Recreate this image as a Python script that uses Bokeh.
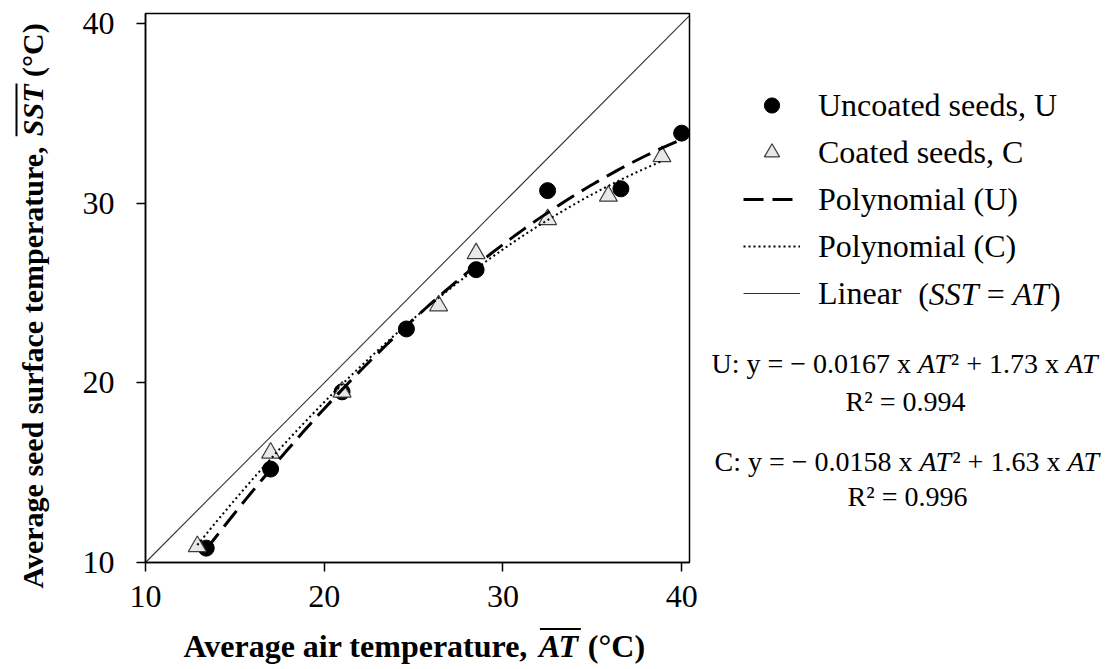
import numpy as np
from math import pi
from bokeh.plotting import figure
from bokeh.layouts import row, column
from bokeh.models import Label, Arrow, Legend, LegendItem, FixedTicker, Range1d
from bokeh.embed import file_html
from bokeh.resources import INLINE

# ---------------- data ----------------
u_at = [13.4, 17.0, 21.0, 24.6, 28.5, 32.5, 36.6, 40.0]
u_sst = [10.8, 15.2, 19.5, 23.0, 26.3, 30.7, 30.8, 33.9]
c_at = [12.9, 17.0, 21.0, 26.4, 28.5, 32.5, 35.9, 38.9]
c_sst = [10.9, 16.1, 19.5, 24.3, 27.2, 29.1, 30.4, 32.6]
ticks = [10, 20, 30, 40]
one_to_one = [10, 40.44]
legend_labels = ["Uncoated seeds, U", "Coated seeds, C", "Polynomial (U)", "Polynomial (C)", "Linear"]
eq_u = [("U: y = − 0.0167 x ", "r"), ("AT", "i"), ("² + 1.73 x ", "r"), ("AT", "i")]
eq_c = [("C: y = − 0.0158 x ", "r"), ("AT", "i"), ("² + 1.63 x ", "r"), ("AT", "i")]
r2_u = "R² = 0.994"
r2_c = "R² = 0.996"
linear_tail = [("(", "r"), ("SST", "i"), (" = ", "r"), ("AT", "i"), (")", "r")]
x_title = [("Average air temperature, ", "b"), ("AT", "bi"), (" (°C)", "b")]
y_title = [("Average seed surface temperature, ", "b"), ("SST", "bi"), (" (°C)", "b")]

# ---------------- layout (global px) ----------------
W, H = 1105, 669
LW = 50                      # left strip for the y title
MX1 = 700                    # main plot right edge
BH = 44                      # bottom strip for the x title
FL, FR, FT, FB = 145, 689, 13, 562   # frame edges
XMIN, XMAX = 10, 40.44
YMIN, YMAX = 10, 40.56
FONT = "Liberation Serif"

# Times-metric advance widths (per 1000 em)
REG = {' ': 250, '(': 333, ')': 333, '+': 564, ',': 250, '.': 250, ':': 278, '=': 564,
       '−': 564, '²': 300, '°': 400, 'A': 722, 'C': 667, 'L': 611, 'R': 667, 'S': 556,
       'T': 611, 'U': 722, 'x': 500, 'y': 500}
ITA = {' ': 250, 'A': 611, 'T': 556, 'S': 500}
BOLD = {' ': 250, '(': 333, ')': 333, ',': 250, '°': 400, 'A': 722, 'C': 722, 'a': 500,
        'c': 444, 'd': 556, 'e': 444, 'f': 333, 'g': 500, 'i': 278, 'm': 833, 'p': 556,
        'r': 444, 's': 389, 't': 333, 'u': 556, 'v': 500}
BOLDITA = {' ': 250, 'A': 667, 'T': 611, 'S': 556}
TABLES = {"r": REG, "i": ITA, "b": BOLD, "bi": BOLDITA}
STYLES = {"r": "normal", "i": "italic", "b": "bold", "bi": "bold italic"}


def tw(s, st, size):
    return sum(TABLES[st].get(ch, 500) for ch in s) * size / 1000.0


def blank(w, h, xr=None):
    f = figure(width=w, height=h, output_backend="svg", toolbar_location=None,
               x_range=xr if xr is not None else Range1d(0, w), y_range=Range1d(h, 0),
               x_axis_type=None, y_axis_type=None, min_border=0)
    f.min_border_left = f.min_border_right = f.min_border_top = f.min_border_bottom = 0
    f.outline_line_color = None
    f.xgrid.visible = False
    f.ygrid.visible = False
    f.background_fill_color = "white"
    f.border_fill_color = "white"
    return f


def put_row(f, ox, oy, pieces, x0, y0, size, rotate=False):
    """place text pieces (global px, middle baseline) in figure f with origin (ox, oy)"""
    pos = x0 if not rotate else y0
    sgn = -1 if rotate else 1
    spans = []
    for text, st in pieces:
        lead = len(text) - len(text.lstrip(' '))
        pos += tw(' ' * lead, st, size) * sgn
        core = text.strip(' ')
        wcore = tw(core, st, size)
        if rotate:
            lab = Label(x=x0 - ox, y=pos - oy, text=core, angle=pi / 2,
                        text_align="left", text_baseline="middle")
        else:
            lab = Label(x=pos - ox, y=y0 - oy, text=core, text_align="left",
                        text_baseline="middle")
        spans.append((pos, pos + sgn * wcore))
        pos += sgn * wcore
        lab.text_font = FONT
        lab.text_font_size = f"{size}px"
        lab.text_font_style = STYLES[st]
        lab.text_color = "black"
        f.add_layout(lab)
        trail = len(text) - len(text.rstrip(' '))
        pos += tw(' ' * trail, st, size) * sgn
    return spans


# ---------------- main plot ----------------
MH = H - BH
p = figure(width=MX1 - LW, height=MH, output_backend="svg", toolbar_location=None,
           x_range=Range1d(XMIN, XMAX), y_range=Range1d(YMIN, YMAX))
p.min_border_left = FL - LW
p.min_border_right = MX1 - FR
p.min_border_top = FT
p.min_border_bottom = MH - FB
p.background_fill_color = "white"
p.border_fill_color = "white"
p.outline_line_color = "black"
p.outline_line_width = 1.5
p.xgrid.visible = False
p.ygrid.visible = False

for ax in (p.xaxis[0], p.yaxis[0]):
    ax.ticker = FixedTicker(ticks=ticks)
    ax.major_tick_out = 9
    ax.major_tick_in = 0
    ax.minor_tick_line_color = None
    ax.axis_line_width = 1.5
    ax.major_tick_line_width = 1.5
    ax.major_label_text_font = FONT
    ax.major_label_text_font_size = "32px"
    ax.major_label_text_color = "black"
p.xaxis.major_label_standoff = 14
p.yaxis.major_label_standoff = 22

MARK_U = dict(marker="circle", fill_color="black", line_color="black")
MARK_C = dict(marker="triangle", fill_color="#e8e8e8", line_color="#3c3c3c", line_width=1.2)
LINE_U = dict(line_color="black", line_width=3, line_dash="20 9")
LINE_C = dict(line_color="black", line_width=2, line_dash="2 3")
LINE_L = dict(line_color="#333333", line_width=1.1)

p.scatter(u_at, u_sst, size=16, **MARK_U)
p.scatter(c_at, c_sst, size=18, **MARK_C)

# polynomial trend lines (least squares fit of the data)
cu = np.polyfit(u_at, u_sst, 2)
cc = np.polyfit(c_at, c_sst, 2)
ux = np.linspace(min(u_at), max(u_at), 120)
cx = np.linspace(min(c_at), max(c_at), 120)
uy = np.polyval(cu, ux)
cy = np.polyval(cc, cx)
p.line(ux, uy, **LINE_U)
p.line(cx, cy, **LINE_C)
p.line(one_to_one, one_to_one, **LINE_L)

# ---------------- left strip: y title ----------------
lf = blank(LW, H)
YT_MID = 32
spans = put_row(lf, 0, 0, y_title, YT_MID, 588, 30, rotate=True)
s0, s1 = spans[1]
lf.add_layout(Arrow(end=None, start=None, x_start=YT_MID - 16, y_start=s0,
                    x_end=YT_MID - 16, y_end=s1 - 1, line_width=2, line_color="black"))

# ---------------- bottom strip: x title ----------------
# this strip sits in a column with the main plot, so its frame is aligned with
# the main frame (FL..FR); its x range is therefore given in page pixels
bf = blank(MX1 - LW, BH, xr=Range1d(FL, FR))
XT_MID = 645.5
spans = put_row(bf, 0, MH, x_title, 183, XT_MID, 32)
a0, a1 = spans[1]
bf.add_layout(Arrow(end=None, start=None, x_start=a0 + 1, y_start=XT_MID - 17 - MH,
                    x_end=a1 + 1, y_end=XT_MID - 17 - MH, line_width=2, line_color="black"))

# ---------------- right strip: legend + equations ----------------
rf = blank(W - MX1, H)
rf.extra_x_ranges = {"off": Range1d(1000, 2000)}
rf.extra_y_ranges = {"off": Range1d(1000, 2000)}
off = dict(x_range_name="off", y_range_name="off")
d_u = rf.scatter(u_at, u_sst, size=16, **MARK_U, **off)
d_c = rf.scatter(c_at, c_sst, size=18, **MARK_C, **off)
d_pu = rf.line(ux, uy, **LINE_U, **off)
d_pc = rf.line(cx, cy, **LINE_C, **off)
d_l = rf.line(one_to_one, one_to_one, **LINE_L, **off)

LEG_X, LEG_TOP = 743, 86
GH, SP = 38, 9
leg_h = 5 * GH + 4 * SP
legend = Legend(items=[LegendItem(label=lab, renderers=[r]) for lab, r in
                       zip(legend_labels, [d_u, d_c, d_pu, d_pc, d_l])],
                location=(LEG_X - MX1, H - (LEG_TOP + leg_h)),
                glyph_width=57, glyph_height=GH, label_height=GH, spacing=SP,
                padding=0, margin=0, label_standoff=18,
                border_line_color=None, background_fill_alpha=0,
                label_text_font=FONT, label_text_font_size="32px",
                label_text_color="black")
rf.add_layout(legend)

put_row(rf, MX1, 0, linear_tail, 917.7, LEG_TOP + 4 * (GH + SP) + GH / 2, 32)
put_row(rf, MX1, 0, eq_u, 711, 363, 28)
put_row(rf, MX1, 0, eq_c, 714, 461, 28)
for txt, cxp, cyp in ((r2_u, 905, 401), (r2_c, 907, 496)):
    rf.add_layout(Label(x=cxp - MX1, y=cyp, text=txt, text_align="center",
                        text_baseline="middle", text_font=FONT, text_font_size="28px",
                        text_color="black"))

layout = row(lf, column(p, bf), rf)
open("out.html", "w").write(file_html(layout, INLINE))
